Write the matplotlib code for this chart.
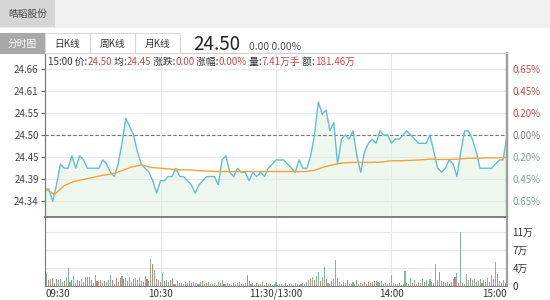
import numpy as np
import matplotlib
matplotlib.use('Agg')
import matplotlib.pyplot as plt
from matplotlib.patches import Rectangle

plt.rcParams['font.family'] = ['Noto Sans CJK SC', 'DejaVu Sans']

# ---- data ----
stock_name = '皓韬股份'
tabs = ['分时图', '日K线', '周K线', '月K线']
last_price = '24.50'
change_text = '0.00 0.00%'
info_parts = [('15:00 价:', '24.50'), (' 均:', '24.45'), (' 涨跌:', '0.00'),
              (' 涨幅:', '0.00%'), (' 量:', '7.41万手'), (' 额:', '181.46万')]

prev_close = 24.50
price_labels = ['24.34', '24.39', '24.45', '24.50', '24.55', '24.61', '24.66']
pct_labels = ['0.65%', '0.45%', '0.20%', '0.00%', '0.20%', '0.45%', '0.65%']
time_labels = ['09:30', '10:30', '11:30/13:00', '14:00', '15:00']
time_ticks = [0, 60, 120, 180, 240]
vol_labels = ['0', '4万', '7万', '11万']

# price every 2 minutes (0..240)
price = [24.37, 24.37, 24.34, 24.38, 24.43, 24.42, 24.42, 24.45, 24.42, 24.45,
         24.44, 24.42, 24.42, 24.42, 24.42, 24.44, 24.43, 24.41, 24.40, 24.43,
         24.48, 24.54, 24.52, 24.50, 24.46, 24.43, 24.42, 24.41, 24.39, 24.36,
         24.39, 24.39, 24.40, 24.40, 24.42, 24.40, 24.40, 24.39, 24.38, 24.36,
         24.38, 24.39, 24.40, 24.40, 24.40, 24.38, 24.44, 24.45, 24.41, 24.40,
         24.42, 24.41, 24.41, 24.39, 24.41, 24.40, 24.41, 24.40, 24.42, 24.43,
         24.44, 24.44, 24.44, 24.43, 24.42, 24.41, 24.44, 24.42, 24.42, 24.45,
         24.50, 24.58, 24.55, 24.56, 24.51, 24.53, 24.43, 24.49, 24.50, 24.49,
         24.51, 24.45, 24.41, 24.46, 24.48, 24.49, 24.48, 24.51, 24.50, 24.50,
         24.48, 24.49, 24.49, 24.50, 24.51, 24.50, 24.49, 24.48, 24.48, 24.48,
         24.50, 24.46, 24.42, 24.41, 24.42, 24.44, 24.43, 24.40, 24.46, 24.51,
         24.51, 24.49, 24.46, 24.42, 24.42, 24.42, 24.42, 24.43, 24.44, 24.44,
         24.50]
price_min = np.arange(0, 241, 2)

# average price every 5 minutes
avg = [24.370, 24.357, 24.378, 24.388, 24.393, 24.398, 24.403, 24.406, 24.414, 24.423,
       24.428, 24.422, 24.420, 24.418, 24.416, 24.416, 24.414, 24.413, 24.412, 24.412,
       24.412, 24.412, 24.412, 24.412, 24.412, 24.412, 24.412, 24.412, 24.415, 24.423,
       24.429, 24.433, 24.434, 24.434, 24.434, 24.435, 24.438, 24.438, 24.439, 24.440,
       24.442, 24.441, 24.441, 24.442, 24.444, 24.444, 24.445, 24.445, 24.446]
avg_min = np.arange(0, 241, 5)

# volume per minute (万)
volume = [1.0, 2.6, 1.2, 1.4, 1.6, 0.6, 1.5, 1.2, 1.4, 0.8, 1.1, 1.9, 3.7, 0.9, 1.2, 2.0, 0.7, 1.2, 1.1, 1.4,
          0.9, 1.8, 1.9, 1.8, 1.2, 0.6, 2.2, 1.1, 0.8, 1.2, 0.6, 1.0, 0.9, 1.3, 2.2, 1.2, 0.5, 1.7, 0.9, 1.6,
          2.0, 1.5, 1.7, 1.1, 1.9, 0.8, 1.5, 1.7, 1.2, 1.9, 1.1, 0.9, 2.0, 1.4, 1.0, 5.6, 4.4, 3.3, 1.5, 1.2,
          0.8, 2.7, 1.1, 1.3, 0.9, 1.3, 1.7, 0.5, 0.4, 1.0, 0.6, 0.7, 0.5, 0.9, 0.6, 1.1, 0.7, 0.8, 0.6, 0.4,
          0.5, 0.8, 1.0, 0.5, 0.6, 0.9, 0.4, 0.5, 0.7, 0.3, 0.8, 0.6, 1.2, 0.5, 0.4, 0.7, 0.5, 0.3, 0.6, 0.4,
          0.7, 0.9, 0.5, 0.4, 0.6, 2.2, 1.0, 0.4, 0.6, 0.3, 0.7, 0.4, 0.5, 0.9, 0.3, 0.6, 0.4, 0.5, 0.3, 0.4,
          0.8, 0.3, 0.5, 0.4, 0.3, 0.6, 0.3, 0.4, 0.5, 0.3, 0.6, 0.4, 0.3, 0.5, 0.6, 0.4, 0.8, 1.2, 1.5, 1.8,
          1.2, 2.1, 2.9, 1.1, 1.8, 3.9, 1.5, 0.7, 0.4, 1.0, 1.5, 5.3, 1.7, 0.8, 0.4, 0.9, 0.6, 1.2, 0.5, 0.4,
          0.9, 0.5, 1.3, 0.4, 0.7, 0.5, 0.8, 0.4, 0.9, 0.6, 0.8, 1.0, 1.1, 0.9, 0.6, 1.0, 0.5, 0.7, 0.4, 0.6,
          2.2, 0.7, 0.5, 0.4, 0.6, 0.3, 0.5, 3.0, 0.6, 0.4, 1.6, 0.7, 1.2, 0.5, 0.8, 0.6, 1.4, 0.9, 1.2, 0.5,
          1.5, 0.9, 0.6, 4.5, 1.3, 2.9, 1.0, 0.8, 0.6, 0.9, 0.5, 0.8, 1.4, 1.8, 2.7, 0.6, 11.1, 0.7, 0.5, 2.4,
          1.3, 1.6, 1.2, 1.5, 0.8, 1.1, 1.4, 0.7, 1.3, 0.9, 1.6, 0.8, 2.2, 1.4, 4.8, 2.4, 1.0, 0.7, 1.2, 0.6,
          7.8]
vol_dir = ('ggrgrgrgggrgggrgrgrg' 'grrgrggrgrgrgggrgrgr' 'grggrgrgrggrgrggrgrg'
           'rgrggrgrggrggrggrggr' 'ggrgrggrgggrgrggrgrg' 'ggrggrgrggrgrggrgrgg'
           'grgggrgrgrggrgrgggrg' 'rggrggrggrggrggrgrgg' 'grgrggrgrggrggrgrgrg'
           'ggrgrggggrgrggrggrgg' 'grggrrgrggrggrgrgrgg' 'grggrggrgrgrgggrgrgr' 'g')
vol_min = np.arange(len(volume))

# ---- layout helpers (pixel -> figure fraction) ----
W, H = 550, 300
def fx(x):
    return x / W
def fy(y):
    return 1 - y / H

fig = plt.figure(figsize=(5.5, 3.0), dpi=100)
fig.patch.set_facecolor('white')

# header band
fig.patches.append(Rectangle((0, fy(28)), 1, 28 / H, transform=fig.transFigure,
                             facecolor='#f0f0f0', edgecolor='none', zorder=0))
fig.patches.append(Rectangle((0, fy(27)), 55 / W, 27 / H, transform=fig.transFigure,
                             facecolor='#d6d6d6', edgecolor='none', zorder=0))
fig.text(fx(28), fy(14), stock_name, fontsize=7, color='#444', ha='center', va='center')

# tabs
for i, t in enumerate(tabs):
    x0 = 45 * i
    active = i == 0
    fig.patches.append(Rectangle((fx(x0), fy(53)), 45 / W, 20 / H, transform=fig.transFigure,
                                 facecolor='#a8a8a8' if active else 'white',
                                 edgecolor='#a8a8a8' if active else '#d8d8d8', lw=0.8, zorder=1))
    fig.text(fx(x0 + 22.5), fy(43.5), t, fontsize=7, color='white' if active else '#333',
             ha='center', va='center')

fig.text(fx(193), fy(50.5), last_price, fontsize=13.5, color='#222', ha='left', va='baseline')
fig.text(fx(249), fy(50.5), change_text, fontsize=7.5, color='#555', ha='left', va='baseline')

# ---- price panel ----
ax = fig.add_axes([fx(45), fy(217), 462 / W, 164 / H])
ax2 = ax.twinx()
pct = np.linspace(-0.0065, 0.0065, 7)
ticks = prev_close * (1 + pct)
span = prev_close * 0.0065 * 1.24
ax.set_xlim(0, 240)
ax.set_ylim(prev_close - span, prev_close + span)
ax2.set_ylim(prev_close - span, prev_close + span)

ax.fill_between(price_min, price, prev_close - span, color='#eef7ee', lw=0, zorder=1)
ax.plot(price_min, price, color='#62bfd0', lw=1.0, zorder=3)
ax.plot(avg_min, avg, color='#efa43a', lw=1.0, zorder=3)
ax.axhline(prev_close, color='#777', lw=0.8, ls=(0, (3, 2)), zorder=2)

ax.set_yticks(ticks)
ax.set_yticklabels(price_labels)
ax.set_xticks(time_ticks)
ax.tick_params(axis='x', length=0, labelbottom=False)
ax.tick_params(axis='y', length=3, color='#666', labelsize=7, labelcolor='#444', pad=1.5)
ax.grid(True, color='#e8e8e8', lw=0.8, zorder=0)

ax2.set_yticks(ticks)
ax2.set_yticklabels(pct_labels)
ax2.tick_params(axis='y', length=0, labelsize=7, pad=4)
pct_colors = ['#7fa796'] * 3 + ['#888888'] + ['#c0504d'] * 3
for lab, c in zip(ax2.get_yticklabels(), pct_colors):
    lab.set_color(c)

for a in (ax, ax2):
    a.spines['top'].set_color('#d0d0d0')
    a.spines['left'].set_color('#777')
    a.spines['left'].set_linewidth(0.8)
    a.spines['right'].set_color('#a0a0a0')
    a.spines['right'].set_linewidth(1.6)
    a.spines['bottom'].set_color('#808080')
    a.spines['bottom'].set_linewidth(1.3)

# multi-coloured info line
renderer = fig.canvas.get_renderer()
xpos = fx(48)
for lab, val in info_parts:
    for s, c in ((lab, '#333'), (val, '#c0504d')):
        t = fig.text(xpos, fy(62), s, fontsize=7, color=c, ha='left', va='center')
        bb = t.get_window_extent(renderer=renderer)
        xpos = bb.x1 / fig.bbox.width

# ---- volume panel ----
axv = fig.add_axes([fx(45), fy(286), 462 / W, 68 / H])
axv.set_xlim(0, 240)
vmax = 11
axv.set_ylim(0, vmax * 68 / 54)
bar_colors = ['#e07a7a' if d == 'r' else '#7fb99a' for d in vol_dir]
axv.bar(vol_min, volume, width=0.55, color=bar_colors, lw=0, zorder=2)

axv.set_yticks(np.linspace(0, vmax, 4))
axv.set_yticklabels(vol_labels)
axv.yaxis.tick_right()
axv.tick_params(axis='y', length=0, labelsize=7, labelcolor='#333', pad=4)
axv.set_xticks(time_ticks)
axv.set_xticklabels(time_labels)
axv.tick_params(axis='x', length=0, labelsize=7, labelcolor='#333', pad=2)
for lab, ha in zip(axv.get_xticklabels(), ['left', 'center', 'center', 'center', 'right']):
    lab.set_ha(ha)
axv.grid(True, color='#e8e8e8', lw=0.8, zorder=0)
axv.spines['top'].set_visible(False)
axv.spines['left'].set_color('#777')
axv.spines['left'].set_linewidth(0.8)
axv.spines['right'].set_color('#a0a0a0')
axv.spines['right'].set_linewidth(1.6)
axv.spines['bottom'].set_color('#808080')
axv.spines['bottom'].set_linewidth(0.8)

fig.savefig('out.png', dpi=100)
